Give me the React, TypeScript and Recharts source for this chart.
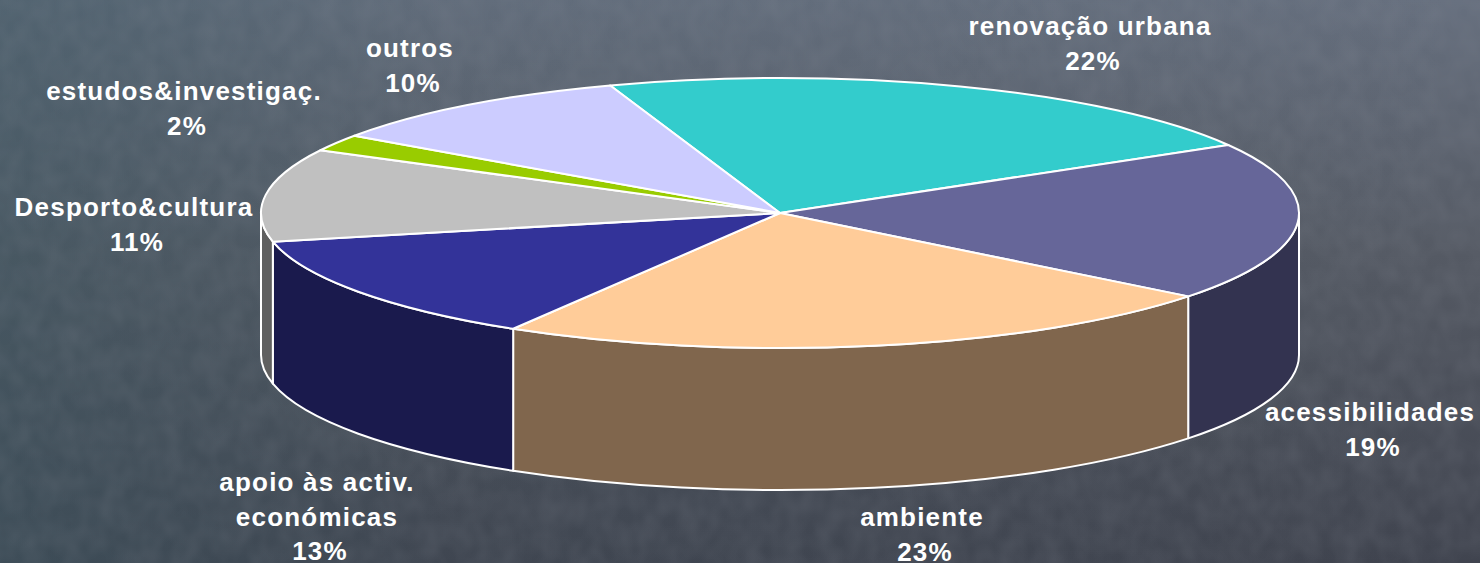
import React from "react"
import { PieChart, Pie } from "recharts"

const categories = ["renovação urbana", "acessibilidades", "ambiente", "apoio às activ. económicas", "Desporto&cultura", "estudos&investigaç.", "outros"]
const shares = [21.9, 19, 23, 13, 11.1, 2, 10]
const topColors = ["#33CCCC", "#666699", "#FFCC99", "#333399", "#C0C0C0", "#99CC00", "#CCCCFF"]
const sideColors = ["#1A6666", "#333350", "#80664D", "#1A1A4D", "#606060", "#4D6600", "#66667F"]

const labelLines = [["renovação urbana"], ["acessibilidades"], ["ambiente"], ["apoio às activ.", "económicas"], ["Desporto&cultura"], ["estudos&investigaç."], ["outros"]]
const labelSpots = [
  { x: 1090, y: 35 },
  { x: 1370, y: 421 },
  { x: 922, y: 526 },
  { x: 317, y: 491 },
  { x: 134, y: 216 },
  { x: 184, y: 100 },
  { x: 410, y: 57 },
]

const rows = categories.map((name, i) => ({ name, value: shares[i], fill: topColors[i], side: sideColors[i] }))

const WIDTH = 1480
const HEIGHT = 563
const RX = 519
const RY = 135
const DEPTH = 142
const CX = 780
const CY = 213

const point = (angle: number, drop = 0) => {
  const rad = (angle * Math.PI) / 180
  return `${CX + RX * Math.cos(rad)} ${CY - RY * Math.sin(rad) + drop}`
}

// flattened slice, the pie lies on its back
function TopSlice(props: any) {
  const { startAngle, endAngle, fill } = props
  const large = Math.abs(endAngle - startAngle) > 180 ? 1 : 0
  const d = `M${CX} ${CY} L${point(startAngle)} A${RX} ${RY} 0 ${large} 1 ${point(endAngle)} Z`
  return <path d={d} fill={fill} stroke="#fff" strokeWidth={2} strokeLinejoin="round" />
}

// only the part of the rim facing the viewer gets a wall
function SideWall(props: any) {
  const { startAngle, endAngle, payload } = props
  const from = Math.min(startAngle, 0)
  const to = Math.max(endAngle, -180)
  if (from <= to) return <g />
  const d =
    `M${point(from)} A${RX} ${RY} 0 0 1 ${point(to)} ` +
    `L${point(to, DEPTH)} A${RX} ${RY} 0 0 0 ${point(from, DEPTH)} Z`
  return <path d={d} fill={payload.side} stroke="#fff" strokeWidth={2} strokeLinejoin="round" />
}

function SliceLabel(props: any) {
  const { index, value } = props
  const spot = labelSpots[index]
  const lines = [...labelLines[index], `${Math.round(value)}%`]
  return (
    <text
      key={index}
      fontFamily="'Liberation Sans', Arial, sans-serif"
      fontWeight={700}
      fontSize={26}
      letterSpacing={1.2}
      fill="#fff"
      textAnchor="middle"
    >
      {lines.map((line, i) => (
        <tspan key={line} x={spot.x + (i === lines.length - 1 ? 3 : 0)} y={spot.y + i * 34.5}>
          {line}
        </tspan>
      ))}
    </text>
  )
}

function Backdrop() {
  return (
    <svg width={WIDTH} height={HEIGHT} style={{ position: "absolute", left: 0, top: 0 }}>
      <defs>
        <linearGradient id="bgV" x1="0" y1="0" x2="0" y2="1">
          <stop offset="0" stopColor="#666F7E" />
          <stop offset="0.45" stopColor="#555A64" />
          <stop offset="1" stopColor="#40444F" />
        </linearGradient>
        <linearGradient id="bgH" x1="0" y1="0" x2="1" y2="0">
          <stop offset="0" stopColor="#3A5560" stopOpacity={0.5} />
          <stop offset="0.3" stopColor="#3A5560" stopOpacity={0.12} />
          <stop offset="1" stopColor="#3A5560" stopOpacity={0} />
        </linearGradient>
        <filter id="grain" x="0" y="0" width="100%" height="100%">
          <feTurbulence type="fractalNoise" baseFrequency="0.05 0.04" numOctaves={2} seed={7} />
          <feColorMatrix values="0 0 0 0 0.3  0 0 0 0 0.32  0 0 0 0 0.37  0.22 0 0 0 -0.06" />
        </filter>
      </defs>
      <rect width={WIDTH} height={HEIGHT} fill="url(#bgV)" />
      <rect width={WIDTH} height={HEIGHT} fill="url(#bgH)" />
      <rect width={WIDTH} height={HEIGHT} filter="url(#grain)" />
    </svg>
  )
}

export default function App() {
  return (
    <div style={{ position: "absolute", left: 0, top: 0, width: WIDTH, height: HEIGHT, overflow: "hidden" }}>
      <Backdrop />
      <div style={{ position: "absolute", left: 0, top: 0 }}>
        <PieChart width={WIDTH} height={HEIGHT} margin={{ top: 0, right: 0, bottom: 0, left: 0 }}>
          <Pie
            data={rows}
            dataKey="value"
            nameKey="name"
            cx={CX}
            cy={CY}
            outerRadius={RX}
            startAngle={109.1}
            endAngle={-250.9}
            shape={SideWall}
            isAnimationActive={false}
          />
          <Pie
            data={rows}
            dataKey="value"
            nameKey="name"
            cx={CX}
            cy={CY}
            outerRadius={RX}
            startAngle={109.1}
            endAngle={-250.9}
            shape={TopSlice}
            label={SliceLabel}
            labelLine={false}
            isAnimationActive={false}
          />
        </PieChart>
      </div>
    </div>
  )
}
